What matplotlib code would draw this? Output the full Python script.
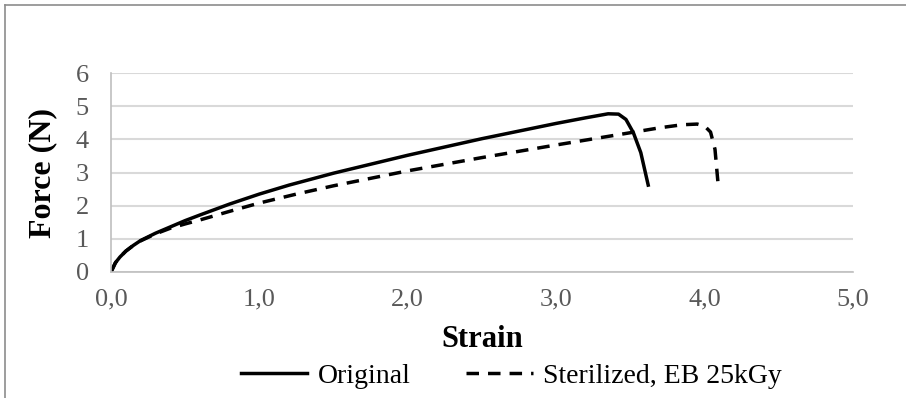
import matplotlib
matplotlib.use("Agg")
import matplotlib.pyplot as plt
from matplotlib.ticker import FuncFormatter
from matplotlib.lines import Line2D

orig_strain = [0, 0.03, 0.06, 0.1, 0.15, 0.2, 0.3, 0.4, 0.5, 0.6, 0.8, 1.0, 1.2, 1.5, 2.0, 2.5, 3.0, 3.2, 3.35, 3.42, 3.47, 3.52, 3.57, 3.62]
orig_force = [0, 0.28, 0.45, 0.63, 0.8, 0.95, 1.17, 1.36, 1.55, 1.72, 2.05, 2.35, 2.62, 2.98, 3.52, 4.02, 4.48, 4.65, 4.77, 4.76, 4.6, 4.2, 3.6, 2.62]

ster_strain = [0, 0.03, 0.06, 0.1, 0.15, 0.2, 0.3, 0.4, 0.5, 0.6, 0.8, 1.0, 1.25, 1.5, 2.0, 2.5, 3.0, 3.5, 3.7, 3.85, 3.95, 4.0, 4.04, 4.07, 4.09]
ster_force = [0, 0.28, 0.45, 0.63, 0.8, 0.94, 1.15, 1.32, 1.45, 1.57, 1.83, 2.08, 2.35, 2.6, 3.05, 3.45, 3.83, 4.2, 4.35, 4.44, 4.46, 4.4, 4.22, 3.7, 2.7]

x_ticks = [0, 1, 2, 3, 4, 5]
y_ticks = [0, 1, 2, 3, 4, 5, 6]

plt.rcParams['font.family'] = ['Liberation Serif', 'DejaVu Serif']

W, H = 906, 398
fig = plt.figure(figsize=(W / 100, H / 100), dpi=100)
ax = fig.add_axes([111 / W, 1 - 272 / H, (853 - 111) / W, (272 - 73) / H])

DASH = (3.6, 2.6)
LW = 2.5
ax.plot(orig_strain, orig_force, color='black', lw=LW, solid_joinstyle='round', label='Original')
ax.plot(ster_strain, ster_force, color='black', lw=LW, dashes=DASH, label='Sterilized, EB 25kGy')

ax.set_xlim(0, 5)
ax.set_ylim(0, 6)
ax.set_xticks(x_ticks)
ax.set_yticks(y_ticks)
ax.xaxis.set_major_formatter(FuncFormatter(lambda v, p: f"{v:.1f}".replace('.', ',')))
ax.yaxis.set_major_formatter(FuncFormatter(lambda v, p: f"{int(v)}"))
ax.grid(axis='y', color='#d9d9d9', lw=1.5)
ax.set_axisbelow(True)
for s in ['top', 'right']:
    ax.spines[s].set_visible(False)
for s in ['left', 'bottom']:
    ax.spines[s].set_color('#bfbfbf')
    ax.spines[s].set_linewidth(1.2)
ax.tick_params(length=0, labelsize=19, colors='#595959')
ax.tick_params(axis='y', pad=16)
ax.tick_params(axis='x', pad=12)

ax.set_xlabel('Strain', fontsize=22, fontweight='bold', labelpad=10)
ax.set_ylabel('Force (N)', fontsize=23, fontweight='bold', labelpad=13)

handles = [Line2D([0], [0], color='black', lw=LW),
           Line2D([0], [0], color='black', lw=LW, dashes=DASH)]
fig.legend(handles, ['Original', 'Sterilized, EB 25kGy'], ncol=2, frameon=False,
           loc='center', bbox_to_anchor=(511 / W, 1 - 376 / H), fontsize=20,
           handlelength=2.4, handletextpad=0.36, columnspacing=2.0,
           borderpad=0, borderaxespad=0)

fig.add_artist(Line2D([5 / W, 5 / W], [0, 1 - 5 / H], color='#8c8c8c', lw=1.2, transform=fig.transFigure))
fig.add_artist(Line2D([5 / W, 1], [1 - 5 / H, 1 - 5 / H], color='#8c8c8c', lw=1.2, transform=fig.transFigure))

fig.savefig('out.png', dpi=100)
